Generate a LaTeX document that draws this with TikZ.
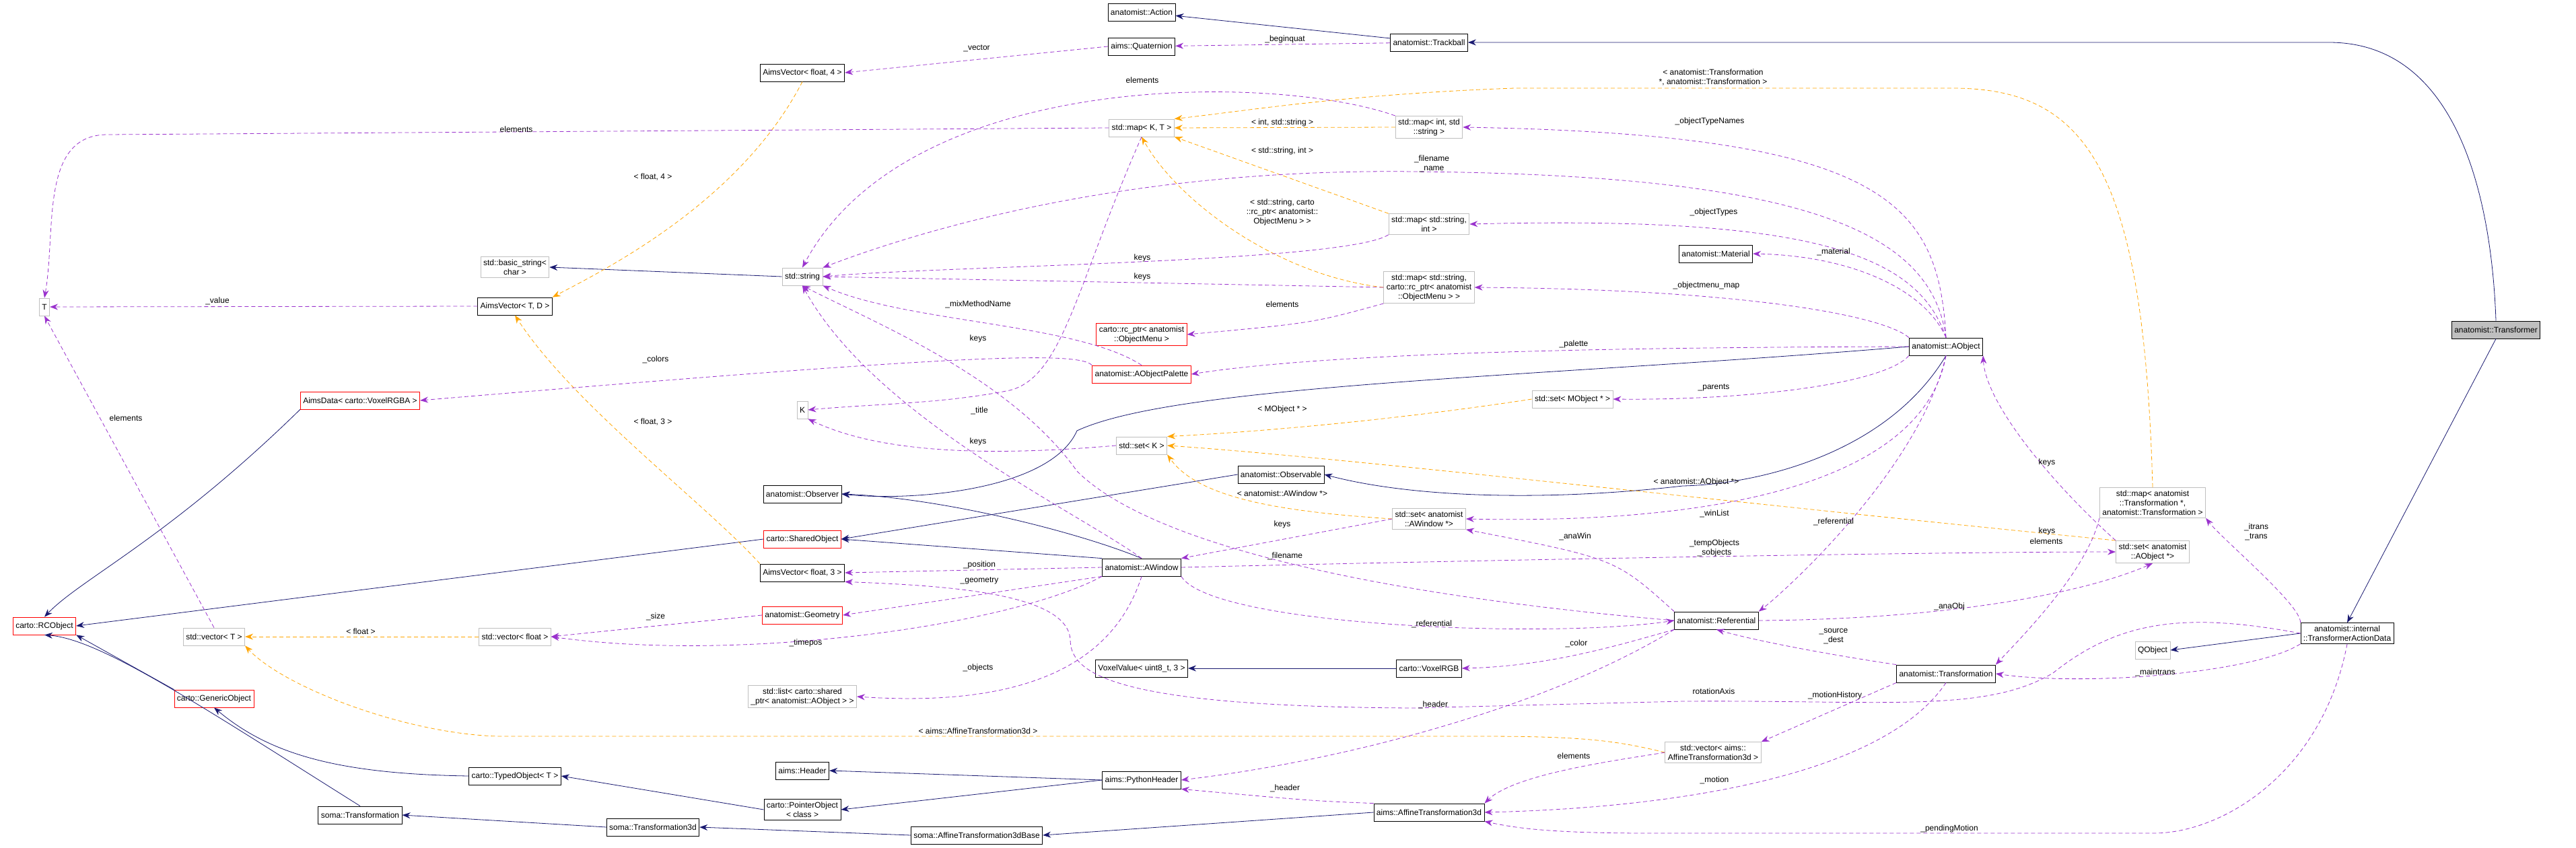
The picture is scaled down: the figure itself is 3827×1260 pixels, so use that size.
\documentclass[tikz,border=0pt]{standalone}
\usepackage{fontspec}
\setmainfont{Liberation Sans}
\usetikzlibrary{arrows.meta}
\definecolor{inhc}{HTML}{191970}
\definecolor{memc}{HTML}{9A32CD}
\definecolor{tplc}{HTML}{FFA500}
\definecolor{grayb}{HTML}{BFBFBF}
\tikzset{
 box/.style={draw=black,thick,fill=white,font=\fontsize{12}{14}\selectfont,align=center,inner sep=4pt,minimum height=26pt},
 gbox/.style={box,draw=grayb},
 rbox/.style={box,draw=red},
 lbl/.style={font=\fontsize{12}{14}\selectfont,align=center,inner sep=0pt},
 tip/.style={-{Stealth[length=12pt,width=9pt]}},
 inh/.style={tip,draw=inhc,thick},
 mem/.style={tip,draw=memc,thick,dashed,dash pattern=on 6pt off 4pt},
 tpl/.style={tip,draw=tplc,thick,dashed,dash pattern=on 6pt off 4pt},
}
\begin{document}
\begin{tikzpicture}[x=1pt,y=-1pt]
\useasboundingbox (0,0) rectangle (3827,1260);
% nodes
\node[box] (action) at (1696,18) {anatomist::Action};
\node[box] (quat) at (1696,69) {aims::Quaternion};
\node[box] (track) at (2123,63) {anatomist::Trackball};
\node[box] (av4) at (1192,108) {AimsVector< float, 4 >};
\node[gbox] (mapKT) at (1696,190) {std::map< K, T >};
\node[gbox] (mapIS) at (2123,189) {std::map< int, std\\::string >};
\node[gbox] (mapSI) at (2123,333) {std::map< std::string,\\ int >};
\node[gbox] (mapSR) at (2123,427) {std::map< std::string,\\ carto::rc\_ptr< anatomist\\::ObjectMenu > >};
\node[rbox] (rcptr) at (1696,497) {carto::rc\_ptr< anatomist\\::ObjectMenu >};
\node[rbox] (palette) at (1696,556) {anatomist::AObjectPalette};
\node[gbox] (setM) at (2336,593) {std::set< MObject * >};
\node[gbox] (str) at (1192,411) {std::string};
\node[gbox] (bstr) at (765,397) {std::basic\_string<\\ char >};
\node[box] (avTD) at (765,455) {AimsVector< T, D >};
\node[gbox] (T) at (66,456) {T};
\node[rbox] (aimsdata) at (535,595) {AimsData< carto::VoxelRGBA >};
\node[gbox] (K) at (1192,609) {K};
\node[box,fill=grayb] (transformer) at (3708,490) {anatomist::Transformer};
\node[box] (aobj) at (2891,515) {anatomist::AObject};
\node[box] (material) at (2549,377) {anatomist::Material};
\node[rbox] (rcobj) at (66,930) {carto::RCObject};
\node[gbox] (vecT) at (318,946) {std::vector< T >};
\node[gbox] (vecF) at (765,946) {std::vector< float >};
\node[rbox] (generic) at (318,1038) {carto::GenericObject};
\node[box] (typed) at (765,1153) {carto::TypedObject< T >};
\node[box] (somaT) at (535,1211) {soma::Transformation};
\node[box] (somaT3) at (970,1229) {soma::Transformation3d};
\node[box] (observer) at (1192,734) {anatomist::Observer};
\node[rbox] (shared) at (1192,801) {carto::SharedObject};
\node[box] (av3) at (1192,851) {AimsVector< float, 3 >};
\node[rbox] (geom) at (1192,914) {anatomist::Geometry};
\node[gbox] (list) at (1192,1035) {std::list< carto::shared\\\_ptr< anatomist::AObject > >};
\node[box] (header) at (1192,1145) {aims::Header};
\node[box] (pointer) at (1192,1203) {carto::PointerObject\\< class >};
\node[gbox] (setK) at (1696,662) {std::set< K >};
\node[box] (observable) at (1903,705) {anatomist::Observable};
\node[gbox] (setW) at (2123,771) {std::set< anatomist\\::AWindow *>};
\node[box] (awin) at (1696,843) {anatomist::AWindow};
\node[box] (vox) at (1696,993) {VoxelValue< uint8\_t, 3 >};
\node[box] (voxrgb) at (2123,993) {carto::VoxelRGB};
\node[box] (pyh) at (1696,1159) {aims::PythonHeader};
\node[box] (aff) at (2123,1207) {aims::AffineTransformation3d};
\node[box] (affb) at (1451,1241) {soma::AffineTransformation3dBase};
\node[box] (ref) at (2550,922) {anatomist::Referential};
\node[gbox] (vecA) at (2545,1118) {std::vector< aims::\\AffineTransformation3d >};
\node[gbox] (mapTr) at (3198,747) {std::map< anatomist\\::Transformation *,\\ anatomist::Transformation >};
\node[gbox] (setA) at (3198,820) {std::set< anatomist\\::AObject *>};
\node[box] (transf) at (2891,1001) {anatomist::Transformation};
\node[gbox] (qobj) at (3198,966) {QObject};
\node[box] (tad) at (3487,941) {anatomist::internal\\::TransformerActionData};
% inheritance
\draw[inh] (track) -- (action);
\draw[inh] (transformer.north) to[out=92,in=0] (3460,63) -- (track.east);
\draw[inh] (observable.west) -- (shared.east);
\draw[inh] (awin.north) .. controls (1600,790) and (1400,740) .. (observer.east);
\draw[inh] (awin.north west) -- (shared.east);
\draw[inh] (aobj.west) .. controls (2300,560) and (1750,570) .. (1600,640) .. controls (1560,730) and (1350,745) .. (observer.east);
\draw[inh] (aobj.south) .. controls (2800,680) and (2600,720) .. (2500,722) .. controls (2300,745) and (2100,740) .. (observable.east);
\draw[inh] (shared.west) -- (rcobj.east);
\draw[inh] (aimsdata.south west) .. controls (250,800) and (120,860) .. (rcobj.north);
\draw[inh] (generic.north west) -- (rcobj.south east);
\draw[inh] (somaT.north) .. controls (300,1050) and (150,950) .. (rcobj.south);
\draw[inh] (typed.west) .. controls (500,1150) and (400,1120) .. (generic.south);
\draw[inh] (pointer.west) -- (typed.east);
\draw[inh] (pyh.west) -- (header.east);
\draw[inh] (pyh.west) -- (pointer.east);
\draw[inh] (somaT3.west) -- (somaT.east);
\draw[inh] (affb.west) -- (somaT3.east);
\draw[inh] (aff.west) -- (affb.east);
\draw[inh] (voxrgb) -- (vox);
\draw[inh] (tad.west) -- (qobj.east);
\draw[inh] (transformer.south) -- (tad.north);
\draw[inh] (str.west) -- (bstr.east);
% templates
\draw[tpl] (av4.south) .. controls (1100,300) and (900,400) .. (avTD.north east);
\draw[tpl] (mapIS.west) -- (mapKT.east);
\draw[tpl] (mapSI.north west) -- (mapKT.south east);
\draw[tpl] (mapSR.west) .. controls (1900,410) and (1750,300) .. (mapKT.south);
\draw[tpl] (mapTr.north) .. controls (3185,250) and (3100,131) .. (2900,131) -- (2250,131) .. controls (2000,140) and (1850,165) .. (mapKT.north east);
\draw[tpl] (av3.north west) .. controls (1050,750) and (850,600) .. (avTD.south);
\draw[tpl] (vecF.west) -- (vecT.east);
\draw[tpl] (vecA.west) .. controls (2400,1100) and (2350,1094) .. (2200,1094) -- (740,1094) .. controls (600,1090) and (420,1020) .. (vecT.south east);
\draw[tpl] (setW.west) .. controls (1900,760) and (1780,740) .. (setK.south east);
\draw[tpl] (setM.west) .. controls (2100,620) and (1900,640) .. (setK.north east);
\draw[tpl] (setA.north west) .. controls (2600,750) and (2000,680) .. (setK.east);
% members
\draw[mem] (track) -- (quat);
\draw[mem] (quat.west) -- (av4.east);
\draw[mem] (mapKT.west) -- (160,200) to[out=180,in=80] (T.north);
\draw[mem] (mapIS.north west) .. controls (1900,110) and (1350,100) .. (str.north);
\draw[mem] (mapSI.south west) .. controls (2000,390) and (1400,395) .. (str.east);
\draw[mem] (mapSR.west) -- (str.east);
\draw[mem] (mapSR.south west) .. controls (1950,480) .. (rcptr.east);
\draw[mem] (palette.north) .. controls (1600,480) and (1350,480) .. (str.south east);
\draw[mem] (palette.north west) .. controls (1600,520) and (1400,530) .. (aimsdata.east);
\draw[mem] (mapKT.south) .. controls (1600,420) and (1580,560) .. (1500,580) .. controls (1400,600) and (1300,600) .. (K.east);
\draw[mem] (aobj.north) .. controls (2880,300) and (2800,200) .. (mapIS.east);
\draw[mem] (aobj.north) .. controls (2870,350) and (2700,260) .. (2100,255) .. controls (1700,250) and (1400,330) .. (str.north east);
\draw[mem] (aobj.north) .. controls (2850,380) and (2700,320) .. (mapSI.east);
\draw[mem] (aobj.north) .. controls (2860,430) and (2750,380) .. (material.east);
\draw[mem] (aobj.north west) .. controls (2800,470) and (2600,430) .. (mapSR.east);
\draw[mem] (aobj.west) .. controls (2500,516) and (2000,520) .. (palette.east);
\draw[mem] (aobj.south west) .. controls (2800,570) and (2600,595) .. (setM.east);
\draw[mem] (vecT.north) -- (T.south);
\draw[mem] (avTD.west) -- (T.east);
\draw[mem] (geom.west) -- (vecF.east);
\draw[mem] (awin.south west) .. controls (1500,930) and (1100,985) .. (vecF.east);
\draw[mem] (awin.west) -- (av3.east);
\draw[mem] (awin.south west) -- (geom.east);
\draw[mem] (awin.south) .. controls (1650,1000) and (1500,1050) .. (list.east);
\draw[mem] (awin.north) .. controls (1600,760) and (1300,620) .. (str.south);
\draw[mem] (awin.south east) .. controls (1800,930) and (2300,950) .. (ref.west);
\draw[mem] (awin.east) .. controls (2300,830) and (2900,820) .. (setA.west);
\draw[mem] (setW.west) -- (awin.north east);
\draw[mem] (setK.west) .. controls (1450,680) and (1300,670) .. (K.south east);
\draw[mem] (ref.west) .. controls (2000,880) and (1700,800) .. (1600,700) .. controls (1500,560) and (1300,480) .. (str.south);
\draw[mem] (aobj.south) .. controls (2860,700) and (2600,780) .. (setW.east);
\draw[mem] (aobj.south) .. controls (2850,700) and (2650,880) .. (ref.north east);
\draw[mem] (ref.north west) .. controls (2400,830) .. (setW.south east);
\draw[mem] (ref.east) .. controls (2900,920) and (3100,880) .. (setA.south);
\draw[mem] (ref.south west) .. controls (2400,960) and (2300,990) .. (voxrgb.east);
\draw[mem] (ref.south west) .. controls (2300,1050) and (2000,1130) .. (pyh.east);
\draw[mem] (transf.north west) .. controls (2700,970) and (2600,950) .. (ref.south);
\draw[mem] (transf.south) .. controls (2800,1150) and (2500,1200) .. (aff.east);
\draw[mem] (transf.south west) -- (vecA.north east);
\draw[mem] (vecA.west) .. controls (2400,1130) and (2250,1150) .. (aff.north east);
\draw[mem] (aff.north west) .. controls (1950,1190) .. (pyh.south east);
\draw[mem] (tad.south west) .. controls (3350,1000) and (3100,1020) .. (transf.east);
\draw[mem] (tad.south) .. controls (3450,1150) and (3300,1238) .. (3200,1238) -- (2450,1238) .. controls (2300,1238) and (2250,1230) .. (aff.south east);
\draw[mem] (tad.north west) .. controls (3420,900) and (3300,800) .. (mapTr.south east);
\draw[mem] (tad.west) .. controls (3250,910) and (3150,920) .. (3050,1000) .. controls (2950,1060) and (2800,1040) .. (2500,1042) -- (2100,1052) .. controls (1650,1050) and (1590,1000) .. (1590,950) .. controls (1585,880) and (1400,870) .. (av3.south east);
\draw[mem] (mapTr.south west) .. controls (3100,850) and (3000,950) .. (transf.north east);
\draw[mem] (setA.north west) .. controls (3050,720) and (2950,600) .. (aobj.south east);
% labels
\node[lbl] at (1909,58) {\_beginquat};
\node[lbl] at (1451,72) {\_vector};
\node[lbl] at (767,192) {elements};
\node[lbl] at (1697,119) {elements};
\node[lbl] at (970,263) {< float, 4 >};
\node[lbl] at (323,447) {\_value};
\node[lbl] at (1905,182) {< int, std::string >};
\node[lbl] at (1905,224) {< std::string, int >};
\node[lbl] at (2127,243) {\_filename\\\_name};
\node[lbl] at (1905,315) {< std::string, carto\\::rc\_ptr< anatomist::\\ObjectMenu > >};
\node[lbl] at (1697,383) {keys};
\node[lbl] at (1697,411) {keys};
\node[lbl] at (1453,452) {\_mixMethodName};
\node[lbl] at (1905,452) {elements};
\node[lbl] at (1453,503) {keys};
\node[lbl] at (2338,511) {\_palette};
\node[lbl] at (974,534) {\_colors};
\node[lbl] at (1455,610) {\_title};
\node[lbl] at (1905,608) {< MObject * >};
\node[lbl] at (187,621) {elements};
\node[lbl] at (970,627) {< float, 3 >};
\node[lbl] at (2545,115) {< anatomist::Transformation\\*, anatomist::Transformation >};
\node[lbl] at (2540,180) {\_objectTypeNames};
\node[lbl] at (2546,315) {\_objectTypes};
\node[lbl] at (2724,374) {\_material};
\node[lbl] at (2535,424) {\_objectmenu\_map};
\node[lbl] at (2546,576) {\_parents};
\node[lbl] at (1453,656) {keys};
\node[lbl] at (1905,733) {< anatomist::AWindow *>};
\node[lbl] at (1905,779) {keys};
\node[lbl] at (2340,797) {\_anaWin};
\node[lbl] at (1909,826) {\_filename};
\node[lbl] at (1455,839) {\_position};
\node[lbl] at (1455,863) {\_geometry};
\node[lbl] at (2127,927) {\_referential};
\node[lbl] at (2342,956) {\_color};
\node[lbl] at (1453,992) {\_objects};
\node[lbl] at (2129,1047) {\_header};
\node[lbl] at (1453,1086) {< aims::AffineTransformation3d >};
\node[lbl] at (2338,1123) {elements};
\node[lbl] at (1909,1171) {\_header};
\node[lbl] at (536,938) {< float >};
\node[lbl] at (974,916) {\_size};
\node[lbl] at (1197,955) {\_timepos};
\node[lbl] at (3041,687) {keys};
\node[lbl] at (2520,716) {< anatomist::AObject *>};
\node[lbl] at (2547,763) {\_winList};
\node[lbl] at (2724,775) {\_referential};
\node[lbl] at (3041,789) {keys};
\node[lbl] at (3040,804) {elements};
\node[lbl] at (2547,814) {\_tempObjects\\\_sobjects};
\node[lbl] at (3352,790) {\_itrans\\\_trans};
\node[lbl] at (2896,901) {\_anaObj};
\node[lbl] at (2724,945) {\_source\\\_dest};
\node[lbl] at (3202,999) {\_maintrans};
\node[lbl] at (2546,1027) {rotationAxis};
\node[lbl] at (2726,1033) {\_motionHistory};
\node[lbl] at (2547,1159) {\_motion};
\node[lbl] at (2896,1231) {\_pendingMotion};
\end{tikzpicture}
\end{document}
